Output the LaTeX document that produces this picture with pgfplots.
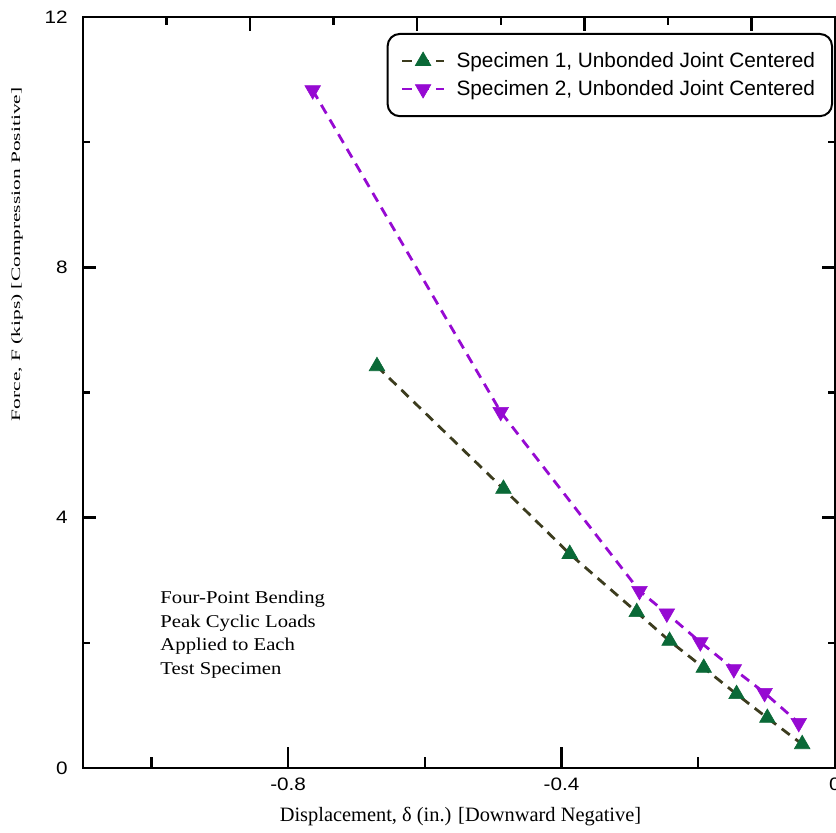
\documentclass[border=0pt]{standalone}
\usepackage{fontspec}
\setmainfont{Liberation Serif}
\setsansfont{Liberation Sans}
\usepackage{pgfplots}
\pgfplotsset{compat=1.18}
\definecolor{specgreen}{RGB}{10,105,55}
\definecolor{specolive}{RGB}{60,60,30}
\definecolor{specpurple}{RGB}{150,10,210}
\pgfplotsset{
  frame/.style={
    width=376pt, height=375.5pt, scale only axis,
    xmin=-1.1, xmax=0, ymin=0, ymax=12,
    tick align=inside,
    axis line style={line width=1.2pt},
    every tick/.style={line width=1.2pt, black},
    ticklabel style={font=\sffamily\fontsize{9}{11}\selectfont, xscale=1.15},
  },
  toptick/.style={black, line width=1.2pt, forget plot},
}
\begin{document}
\begin{tikzpicture}
% axis A: data, y ticks, labels, legend
\begin{axis}[
  frame,
  xtick=\empty,
  ytick={0,4,8,12}, yticklabels={0,4,8,12},
  minor ytick={2,6,10},
  major tick length=6.5pt, minor tick length=3.3pt,
  yticklabel style={inner sep=0pt, xshift=-6.5pt},
  xlabel={Displacement, δ (in.) [Downward Negative]},
  xlabel style={at={(axis description cs:0.502,-0.0652)}, anchor=center, font=\fontsize{10.2}{12}\selectfont},
  ylabel={\scalebox{1}[0.6]{Force, F (kips) [Compression Positive]}},
  ylabel style={at={(axis description cs:-0.0878,0.684)}, anchor=center, font=\fontsize{10.7}{12}\selectfont},
  legend style={at={(axis description cs:1,1)}, anchor=north east, xshift=-1pt, yshift=-8pt,
    draw=black, line width=1pt, rounded corners=6pt,
    font=\sffamily\fontsize{10.4}{12}\selectfont, inner xsep=6.5pt, inner ysep=7pt,
    row sep=1pt, column sep=3.5pt, cells={anchor=west}},
  legend image code/.code={\draw[mark repeat=2,mark phase=2] plot coordinates {(0cm,0cm) (0.37cm,0cm) (0.74cm,0cm)};},
  clip=false,
]
\addplot[specolive, line width=1.4pt, dash pattern=on 5pt off 3.5pt, mark=triangle*, mark size=4.5pt,
  mark options={solid, fill=specgreen, draw=specgreen, line width=0.3pt, sharp corners}]
  coordinates {(-0.670,6.42) (-0.485,4.46) (-0.388,3.42) (-0.290,2.49) (-0.242,2.03) (-0.192,1.60) (-0.144,1.18) (-0.099,0.80) (-0.048,0.38)};
\addlegendentry{Specimen 1, Unbonded Joint Centered}
\addplot[specpurple, line width=1.4pt, dash pattern=on 5pt off 3.5pt, mark=triangle*, mark size=4.5pt,
  mark options={solid, rotate=180, fill=specpurple, draw=specpurple, line width=0.3pt, sharp corners}]
  coordinates {(-0.764,10.83) (-0.489,5.69) (-0.286,2.83) (-0.246,2.47) (-0.197,2.01) (-0.148,1.58) (-0.103,1.20) (-0.053,0.72)};
\addlegendentry{Specimen 2, Unbonded Joint Centered}
% top-edge tick marks of the frame's secondary scale
\addplot[toptick] coordinates {(-0.85556,12) (-0.85556,11.776)};
\addplot[toptick] coordinates {(-0.61111,12) (-0.61111,11.776)};
\addplot[toptick] coordinates {(-0.36667,12) (-0.36667,11.776)};
\addplot[toptick] coordinates {(-0.12222,12) (-0.12222,11.776)};
\addplot[toptick] coordinates {(-0.97778,12) (-0.97778,11.877)};
\addplot[toptick] coordinates {(-0.73333,12) (-0.73333,11.877)};
\addplot[toptick] coordinates {(-0.48889,12) (-0.48889,11.877)};
\addplot[toptick] coordinates {(-0.24444,12) (-0.24444,11.877)};
\node[anchor=north west, align=left, inner sep=0pt, xscale=1.15, font=\fontsize{9}{11.75}\selectfont] at (axis description cs:0.1024,0.2357) {Four-Point Bending\\Peak Cyclic Loads\\Applied to Each\\Test Specimen};
\end{axis}
% axis B: bottom x ticks and labels
\begin{axis}[
  frame,
  ytick=\empty,
  xtick pos=left,
  xtick={-0.8,-0.4,0}, xticklabels={-0.8,-0.4,0},
  minor xtick={-1.0,-0.6,-0.2},
  major tick length=10.5pt, minor tick length=5.5pt,
  xticklabel style={inner sep=0pt, yshift=-5pt},
]
\end{axis}
\pgfresetboundingbox
\path[use as bounding box] (-41.5pt,-32.5pt) rectangle (376.5pt,384pt);
\end{tikzpicture}
\end{document}
